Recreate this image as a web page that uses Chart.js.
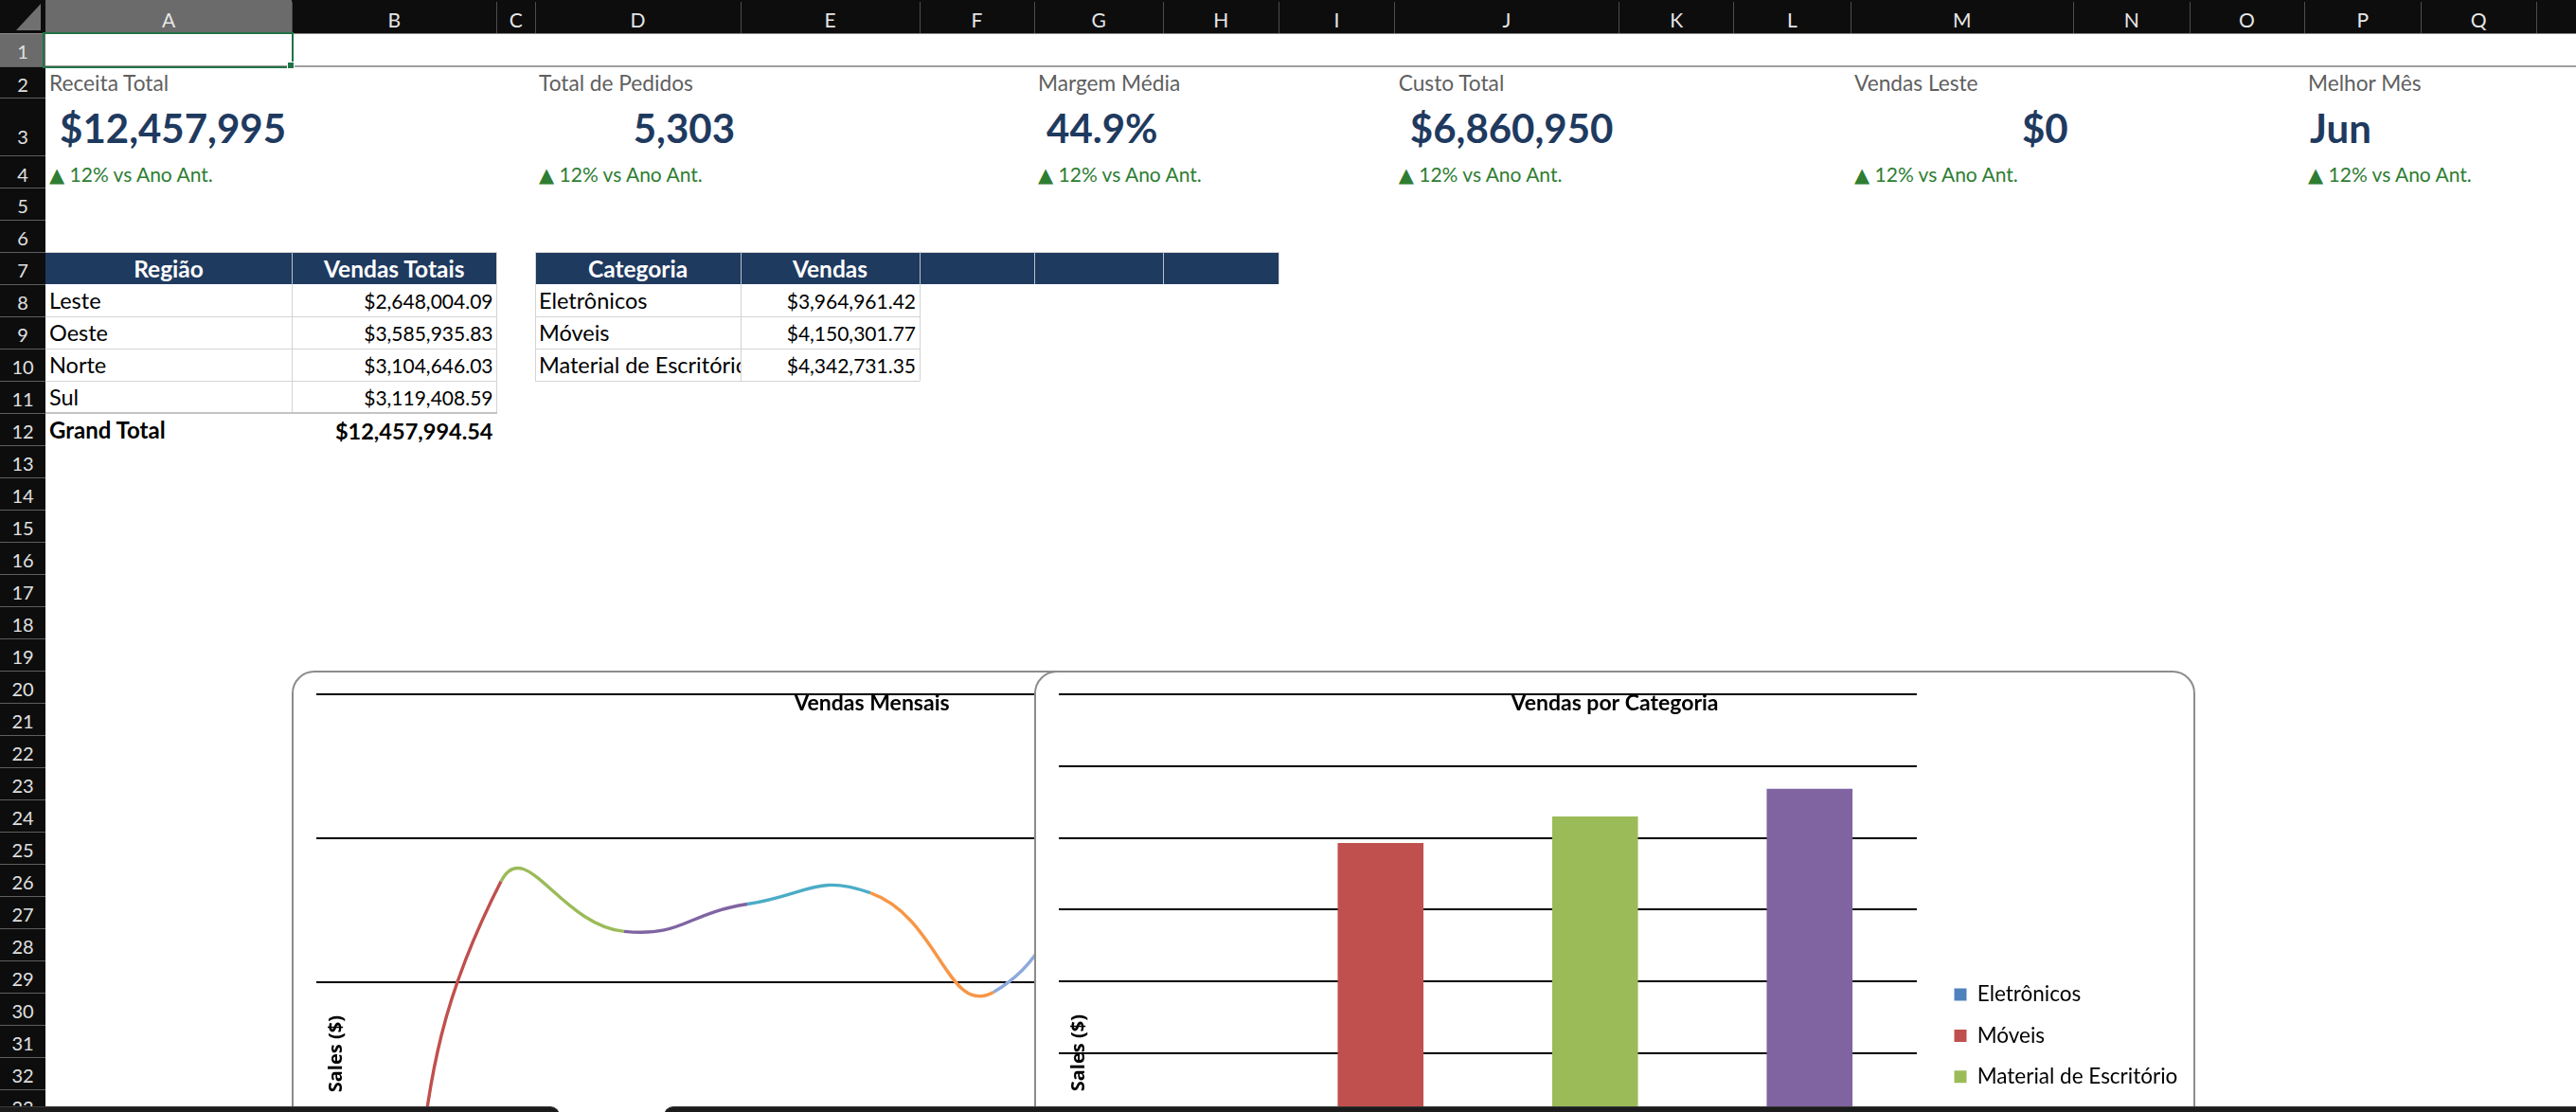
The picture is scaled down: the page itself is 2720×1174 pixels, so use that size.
<!DOCTYPE html>
<html lang="pt-BR">
<head>
<meta charset="utf-8">
<title>Dashboard de Vendas</title>
<script src="https://cdn.jsdelivr.net/npm/chart.js@4.4.1/dist/chart.umd.min.js"></script>
<style>
html,body{margin:0;padding:0;background:#fff;overflow:hidden;width:2720px;height:1174px;}
#sheet{position:absolute;left:0;top:0;width:2720px;height:1174px;overflow:hidden;background:#fff;font-family:Lato,"DejaVu Sans",sans-serif;}
#sheet div{position:absolute;}
</style>
</head>
<body>
<div id="sheet"></div>
<script>
// ---------------- data ----------------
const kpiLabels = ['Receita Total', 'Total de Pedidos', 'Margem Média', 'Custo Total', 'Vendas Leste', 'Melhor Mês'];
const kpiValues = ['$12,457,995', '5,303', '44.9%', '$6,860,950', '$0', 'Jun'];
const kpiDeltas = ['▲ 12% vs Ano Ant.', '▲ 12% vs Ano Ant.', '▲ 12% vs Ano Ant.', '▲ 12% vs Ano Ant.', '▲ 12% vs Ano Ant.', '▲ 12% vs Ano Ant.'];

const regionHeaders = ['Região', 'Vendas Totais'];
const regionNames = ['Leste', 'Oeste', 'Norte', 'Sul'];
const regionSales = [2648004.09, 3585935.83, 3104646.03, 3119408.59];
const regionTotalLabel = 'Grand Total';
const regionTotal = 12457994.54;

const categoryHeaders = ['Categoria', 'Vendas'];
const categoryNames = ['Eletrônicos', 'Móveis', 'Material de Escritório'];
const categoryTableSales = [3964961.42, 4150301.77, 4342731.35];

// line chart (Vendas Mensais)
const monthLabels = ['Jan', 'Fev', 'Mar', 'Abr', 'Mai', 'Jun', 'Jul'];
const monthlySales = [0, 1850000, 1676000, 1771000, 1810000, 1465000, 2300000];
const monthlyAxisMax = 2500000;
const monthlyAxisStep = 500000;

// bar chart (Vendas por Categoria)
const categoryChartLabels = ['Eletrônicos', 'Móveis', 'Material de Escritório', ''];
const categoryChartSales = [0, 3964961.42, 4150301.77, 4342731.35];
const categoryAxisMax = 5000000;
const categoryAxisStep = 500000;

const columnLetters = ['A','B','C','D','E','F','G','H','I','J','K','L','M','N','O','P','Q','R'];

// ---------------- layout / style ----------------
const PALETTE = ['#4F81BD', '#C0504D', '#9BBB59', '#8064A2', '#4BACC6', '#F79646', '#8EAADB'];
const NAVY = '#1F3A5F';
const COL_EDGES = [48, 308, 524.5, 565, 782, 971, 1092, 1228.5, 1350, 1472.7, 1709.4, 1830.8, 1954, 2189.7, 2312, 2433, 2556.5, 2678, 2800];
const ROW_TOPS = [35, 70, 103.3, 164.3];
for (let y = 198.3; y < 1300; y += 34) ROW_TOPS.push(Math.round(y * 10) / 10);
const rowTop = n => ROW_TOPS[n - 1];
const rowBot = n => ROW_TOPS[n];
const colL = c => COL_EDGES[c];
const colR = c => COL_EDGES[c + 1];

const sheet = document.getElementById('sheet');
function box(x, y, w, h, style) {
  const d = document.createElement('div');
  d.style.left = x + 'px'; d.style.top = y + 'px';
  d.style.width = w + 'px'; d.style.height = h + 'px';
  Object.assign(d.style, style || {});
  sheet.appendChild(d);
  return d;
}
function txt(s, x0, x1, baseline, o) {
  const fs = o.size;
  const d = box(x0, baseline - 0.987 * fs, x1 - x0, fs * 1.2, {
    font: (o.weight || 'normal') + ' ' + fs + 'px Lato, "DejaVu Sans", sans-serif',
    lineHeight: (fs * 1.2) + 'px',
    color: o.color || '#000',
    textAlign: o.align || 'left',
    whiteSpace: 'nowrap',
    overflow: o.clip ? 'hidden' : 'visible',
    paddingLeft: (o.padL == null ? 4 : o.padL) + 'px',
    paddingRight: (o.padR == null ? 4 : o.padR) + 'px',
    boxSizing: 'border-box',
    zIndex: o.z || 2
  });
  d.textContent = s;
  return d;
}
const money = v => '$' + v.toLocaleString('en-US', {minimumFractionDigits: 2, maximumFractionDigits: 2});
function hline(x0, x1, y, color, t) { box(x0, y - (t || 1) / 2, x1 - x0, t || 1, {background: color, zIndex: 1}); }
function vline(x, y0, y1, color, t) { box(x - (t || 1) / 2, y0, t || 1, y1 - y0, {background: color, zIndex: 1}); }

// ---------------- sheet chrome ----------------
box(0, 0, 2720, 35, {background: '#0d0d0d', zIndex: 3});
box(48, 0, 260, 35, {background: '#6b6b6b', zIndex: 3});
box(17, 4, 26, 28, {background: '#707070', clipPath: 'polygon(100% 0, 100% 100%, 0 100%)', zIndex: 4});
for (let i = 0; i < columnLetters.length; i++) {
  txt(columnLetters[i], colL(i), colR(i), 28.3, {size: 21, color: '#e6e6e6', align: 'center', padL: 0, padR: 0, z: 4});
  vline(colR(i), 2, 35, '#4d4d4d');
  sheet.lastChild.style.zIndex = 4;
}
box(0, 35, 2720, 1, {background: '#8a8a8a', zIndex: 4});

box(0, 35, 48, 1174 - 35, {background: '#0d0d0d', zIndex: 3});
box(0, 36, 48, 34, {background: '#6b6b6b', zIndex: 3});
for (let n = 1; n <= 34; n++) {
  const off = n === 3 ? 12.6 : (n === 2 || n === 4 ? 6.6 : 7.8);
  txt(String(n), 0, 48, rowBot(n) - off, {size: 20, color: '#e0e0e0', align: 'center', padL: 0, padR: 0, z: 4});
  box(0, rowBot(n) - 0.5, 48, 1, {background: '#5e5e5e', zIndex: 4});
}
// freeze line + selected cell
box(48, 69, 2672, 2, {background: '#a0a0a0', zIndex: 3});
box(45, 33.5, 265, 38, {border: '2px solid #217346', boxSizing: 'border-box', zIndex: 5});
box(303, 65, 8, 8, {background: '#217346', border: '1px solid #fff', boxSizing: 'border-box', zIndex: 6});

// ---------------- KPI cards ----------------
const kpiCols = [0, 3, 6, 9, 12, 15];
kpiCols.forEach((c, i) => {
  txt(kpiLabels[i], colL(c), colL(c) + 400, rowBot(2) - 6.6, {size: 22.7, color: '#5f5f5f'});
  const right = i < 5;
  if (right) txt(kpiValues[i], colL(c) - 200, colR(c), rowBot(3) - 12.6, {size: 42, weight: 'bold', color: NAVY, align: 'right', padR: 6});
  else txt(kpiValues[i], colL(c), colL(c) + 300, rowBot(3) - 12.6, {size: 42, weight: 'bold', color: NAVY, padL: 6});
  txt(kpiDeltas[i], colL(c), colL(c) + 400, rowBot(4) - 6.6, {size: 21, color: '#2E7D32'});
});

// ---------------- tables ----------------
const GRID = '#d4d4d4';
const BODY_TEXT = 23.5, BODY_NUM = 21, HEAD = 24.5;
// Region table A7:B12
box(colL(0), rowTop(7), colR(1) - colL(0), rowBot(7) - rowTop(7), {background: NAVY, zIndex: 1});
hline(colL(0), colR(1), rowTop(7), GRID);
vline(colR(0), rowTop(7), rowBot(7), '#b8c0cc');
regionHeaders.forEach((h, i) => txt(h, colL(i), colR(i), rowBot(7) - 7.6, {size: HEAD, weight: 'bold', color: '#fff', align: 'center', clip: true}));
regionNames.forEach((name, k) => {
  const r = 8 + k;
  txt(name, colL(0), colR(0), rowBot(r) - 8.3, {size: BODY_TEXT, clip: true});
  txt(money(regionSales[k]), colL(1), colR(1), rowBot(r) - 8.3, {size: BODY_NUM, align: 'right', clip: true});
  hline(colL(0), colR(1), rowBot(r), GRID);
});
vline(colR(0), rowBot(7), rowBot(11), GRID);
vline(colR(1), rowTop(7), rowBot(11), GRID);
hline(colL(0), colR(1), rowBot(11), '#c4c4c4', 2);
txt(regionTotalLabel, colL(0), colR(0), rowBot(12) - 6.3, {size: 24, weight: 'bold'});
txt(money(regionTotal), colL(1) - 60, colR(1), rowBot(12) - 6.3, {size: 23.5, weight: 'bold', align: 'right'});

// Category table D7:H7 header, D8:E10 body
box(colL(3), rowTop(7), colR(7) - colL(3), rowBot(7) - rowTop(7), {background: NAVY, zIndex: 1});
hline(colL(3), colR(7), rowTop(7), GRID);
[3, 4, 5, 6].forEach(c => vline(colR(c), rowTop(7), rowBot(7), '#b8c0cc'));
vline(colL(3), rowTop(7), rowBot(10), GRID);
vline(colR(7), rowTop(7), rowBot(7), GRID);
categoryHeaders.forEach((h, i) => txt(h, colL(3 + i), colR(3 + i), rowBot(7) - 7.6, {size: HEAD, weight: 'bold', color: '#fff', align: 'center', clip: true}));
categoryNames.forEach((name, k) => {
  const r = 8 + k;
  txt(name, colL(3), colR(3), rowBot(r) - 8.3, {size: BODY_TEXT, clip: true});
  txt(money(categoryTableSales[k]), colL(4), colR(4), rowBot(r) - 8.3, {size: BODY_NUM, align: 'right', clip: true});
  hline(colL(3), colR(4), rowBot(r), GRID);
});
vline(colR(3), rowBot(7), rowBot(10), GRID);
vline(colR(4), rowBot(7), rowBot(10), GRID);

// ---------------- charts ----------------
Chart.defaults.font.family = 'Lato';
const CH = {plotLeft: 24, plotTop: 23.3, titleY: 32.5, axisTitleX: 45};

const fitPlugin = {
  id: 'fitPlugin',
  afterLayout(chart, args, opts) {
    const t = chart.titleBlock;
    if (t) { t.left = 0; t.right = chart.width; t.width = chart.width; }
    const lg = chart.legend;
    if (lg && opts && opts.legendShift) { lg.left += opts.legendShift; lg.right += opts.legendShift; }
    if (lg && opts && opts.legendShiftY) { lg.top += opts.legendShiftY; lg.bottom += opts.legendShiftY; }
  }
};
function chartTitle(text, fs) {
  const lh = fs * 1.2, pt = CH.titleY - lh / 2;
  return {display: true, text, color: '#000', font: {family: 'Lato', size: fs, weight: 'bold'}, padding: {top: pt, bottom: CH.plotTop - lh - pt}};
}
function yTitle(fs) {
  const lh = fs * 1.2, pt = CH.axisTitleX - lh / 2;
  return {display: true, text: 'Sales ($)', color: '#000', font: {family: 'Open Sans', size: fs, weight: 'bold'}, padding: {top: pt, bottom: CH.plotLeft - lh - pt}};
}
function makeChart(x, y, w, h, z, cfgFn) {
  const wrap = box(x, y, w, h, {boxSizing: 'border-box', border: '2px solid #8c8c8c', borderRadius: '24px', background: '#fff', overflow: 'hidden', zIndex: z});
  const iw = w - 4, ih = h - 4;
  const cv = document.createElement('canvas');
  cv.width = iw; cv.height = ih;
  cv.style.cssText = 'position:absolute;left:0;top:0;width:' + iw + 'px;height:' + ih + 'px;';
  wrap.appendChild(cv);
  return new Chart(cv.getContext('2d'), cfgFn(iw, ih));
}
const hiddenX = (offset) => ({type: 'category', offset, grid: {display: false}, border: {display: false}, ticks: {display: false}});
const blackGridY = (max, step) => ({
  min: 0, max, ticks: {display: false, stepSize: step},
  grid: {color: '#000', lineWidth: 2, drawTicks: false}, border: {display: false}, title: yTitle(20)
});

// Vendas Mensais (line)
makeChart(308, 708, 1225, 880, 7, (iw, ih) => ({
  type: 'line',
  data: {
    labels: monthLabels,
    datasets: [{
      label: 'Vendas', data: monthlySales,
      borderWidth: 3.4, tension: 0.5, pointRadius: 0, fill: false,
      borderColor: PALETTE[1],
      segment: {borderColor: c => PALETTE[c.p1DataIndex % PALETTE.length]}
    }]
  },
  options: {
    responsive: false, animation: false, devicePixelRatio: 1,
    layout: {autoPadding: false, padding: {left: 0, top: 0, right: iw - 934, bottom: ih - 790}},
    scales: {x: hiddenX(true), y: blackGridY(monthlyAxisMax, monthlyAxisStep)},
    plugins: {title: chartTitle('Vendas Mensais', 23), legend: {display: false}, tooltip: {enabled: false}, fitPlugin: {}}
  },
  plugins: [fitPlugin]
}));

// Vendas por Categoria (bar)
const LEG = {size: 22.5, box: 13, pad: 20.9, itemLeft: 39.5, shiftY: 3.5};
makeChart(1092, 708, 1226, 880, 8, (iw, ih) => {
  const m = document.createElement('canvas').getContext('2d');
  m.font = 'normal ' + LEG.size + 'px Lato';
  const maxText = Math.max(...categoryChartLabels.map(t => m.measureText(t).width));
  const legendW = LEG.pad + LEG.box + LEG.size / 2 + maxText + 10;
  return {
    type: 'bar',
    data: {
      labels: categoryChartLabels,
      datasets: [{label: 'Vendas', data: categoryChartSales, backgroundColor: categoryChartSales.map((v, i) => PALETTE[i]), borderWidth: 0, barPercentage: 0.4, categoryPercentage: 1.0}]
    },
    options: {
      responsive: false, animation: false, devicePixelRatio: 1,
      layout: {autoPadding: false, padding: {left: 0, top: 0, right: iw - 930 - legendW, bottom: ih - 788}},
      scales: {x: hiddenX(true), y: blackGridY(categoryAxisMax, categoryAxisStep)},
      plugins: {
        title: chartTitle('Vendas por Categoria', 23),
        tooltip: {enabled: false},
        legend: {
          display: true, position: 'right', align: 'center', fullSize: false,
          labels: {
            font: {family: 'Lato', size: LEG.size}, color: '#1a1a1a', boxWidth: LEG.box, boxHeight: LEG.box, padding: LEG.pad,
            generateLabels: () => categoryChartLabels.map((t, i) => ({text: t, fillStyle: PALETTE[i], strokeStyle: PALETTE[i], lineWidth: 0, hidden: false, index: i, datasetIndex: 0}))
          }
        },
        fitPlugin: {legendShift: LEG.itemLeft - LEG.pad, legendShiftY: LEG.shiftY}
      }
    },
    plugins: [fitPlugin]
  };
});

// ---------------- bottom bar ----------------
box(0, 1167.5, 591, 20, {background: '#1b1b1b', borderTopRightRadius: '10px', borderTop: '1px solid #3a3a3a', boxSizing: 'border-box', zIndex: 20});
box(701, 1167.5, 2100, 20, {background: '#1b1b1b', borderTopLeftRadius: '10px', borderTop: '1px solid #3a3a3a', boxSizing: 'border-box', zIndex: 20});
</script>
</body>
</html>
